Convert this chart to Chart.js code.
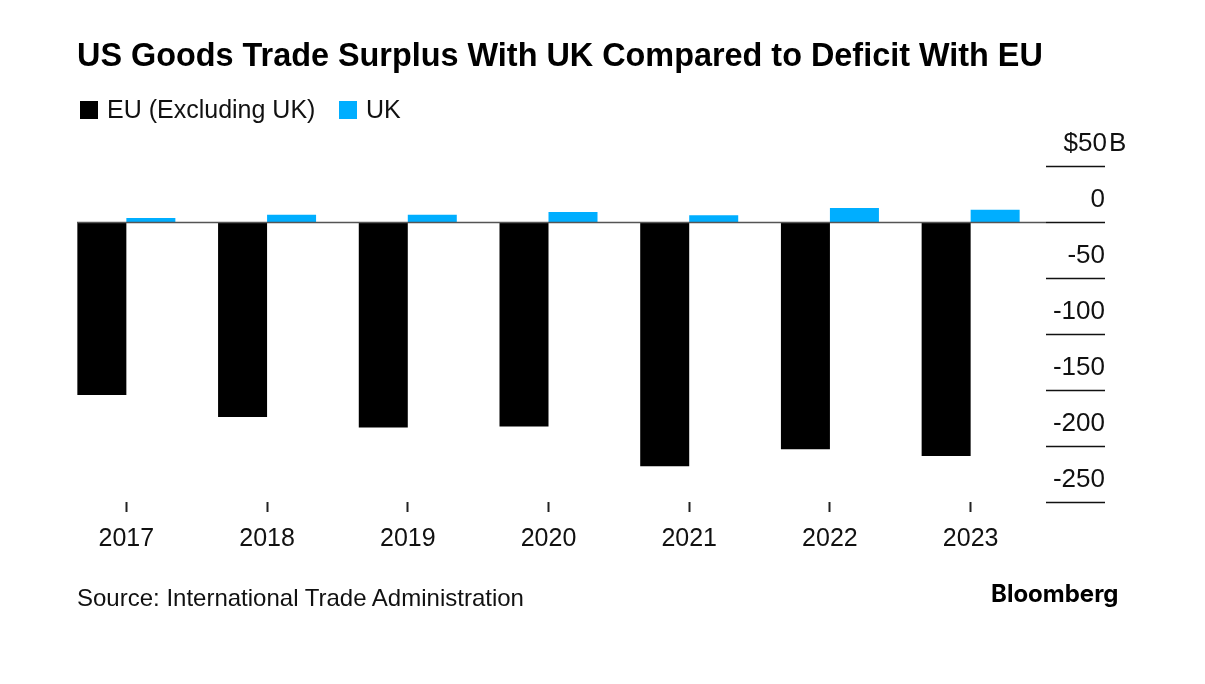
<!DOCTYPE html>
<html>
<head>
<meta charset="utf-8">
<script src="https://cdn.jsdelivr.net/npm/chart.js@4"></script>
<style>
    body { margin: 0; background: #fff; font-family: "Liberation Sans", sans-serif; color: #111; }
    #wrap { position: relative; width: 1205px; height: 684px; overflow: hidden; }
    canvas { position: absolute; left: 0; top: 0; }
    .txt { position: absolute; white-space: nowrap; }
    #title { left: 77px; top: 37px; font-size: 32.4px; font-weight: bold; color: #000; }
    .swatch { position: absolute; top: 101px; width: 18px; height: 18px; }
    .legend { top: 95px; font-size: 25px; }
    #source { left: 77px; top: 584px; font-size: 24px; }
    #brand { left: 991px; top: 579px; font-family: Inter, sans-serif; font-size: 24px; font-weight: 700; color: #000; }
</style>
</head>
<body>
<div id="wrap">
    <canvas id="myChart" width="1205" height="684"></canvas>
    <div class="txt" id="title">US Goods Trade Surplus With UK Compared to Deficit With EU</div>
    <div class="swatch" style="left:80px;background:#000"></div>
    <div class="txt legend" style="left:107px">EU (Excluding UK)</div>
    <div class="swatch" style="left:339px;background:#00aeff"></div>
    <div class="txt legend" style="left:366px">UK</div>
    <div class="txt" id="source">Source: International Trade Administration</div>
    <div class="txt" id="brand">Bloomberg</div>
</div>
<script>
const years = ["2017", "2018", "2019", "2020", "2021", "2022", "2023"];
const euValues = [-154.5, -174, -183.5, -182.5, -218, -203, -209];
const ukValues = [3.5, 6.5, 6.5, 9, 6, 12.5, 11];
const yTicks = [50, 0, -50, -100, -150, -200, -250];

// y axis sits off to the right of the plot: short rules with the label on top
const rightAxisPlugin = {
    id: "rightAxis",
    afterDraw: (chart) => {
        const ctx = chart.ctx;
        const scale = chart.scales.y;
        ctx.save();
        ctx.font = "26px 'Liberation Sans'";
        ctx.fillStyle = "#111";
        ctx.textBaseline = "alphabetic";
        // baseline through the bars out to the axis
        const zero = Math.round(scale.getPixelForValue(0)) + 0.5;
        ctx.strokeStyle = "#555";
        ctx.lineWidth = 1.5;
        ctx.beginPath();
        ctx.moveTo(77, zero);
        ctx.lineTo(1046, zero);
        ctx.stroke();
        yTicks.forEach((v) => {
            const y = Math.round(scale.getPixelForValue(v)) + 0.5;
            ctx.strokeStyle = "#111";
            ctx.beginPath();
            ctx.moveTo(1046, y);
            ctx.lineTo(1105, y);
            ctx.stroke();
            ctx.textAlign = "right";
            if (v === 50) {
                ctx.fillText("$50", 1107, y - 16);
                ctx.textAlign = "left";
                ctx.fillText("B", 1109, y - 16);
            } else {
                ctx.fillText(String(v), 1105, y - 16);
            }
        });
        ctx.restore();
    },
};

new Chart(document.getElementById("myChart").getContext("2d"), {
    type: "bar",
    data: {
        labels: years,
        datasets: [
            { label: "EU (Excluding UK)", data: euValues, backgroundColor: "#000" },
            { label: "UK", data: ukValues, backgroundColor: "#00aeff" },
        ],
    },
    options: {
        responsive: false,
        animation: false,
        devicePixelRatio: 1,
        categoryPercentage: 0.6965,
        barPercentage: 1,
        layout: { padding: { left: 56, right: 164, top: 166, bottom: 132 } },
        plugins: { legend: { display: false }, tooltip: { enabled: false } },
        scales: {
            x: {
                border: { display: false },
                grid: { offset: false, drawOnChartArea: false, tickLength: 10, tickWidth: 2, tickColor: "#222" },
                ticks: {
                    padding: 12,
                    maxRotation: 0,
                    color: "#111",
                    font: { family: "'Liberation Sans'", size: 25 },
                },
                afterFit: (scale) => { scale.height = 50; },
            },
            y: {
                position: "right",
                min: -250,
                max: 50,
                border: { display: false },
                grid: { display: false },
                ticks: { display: false, stepSize: 50 },
                afterFit: (scale) => { scale.width = 0; },
            },
        },
    },
    plugins: [rightAxisPlugin],
});
</script>
</body>
</html>
